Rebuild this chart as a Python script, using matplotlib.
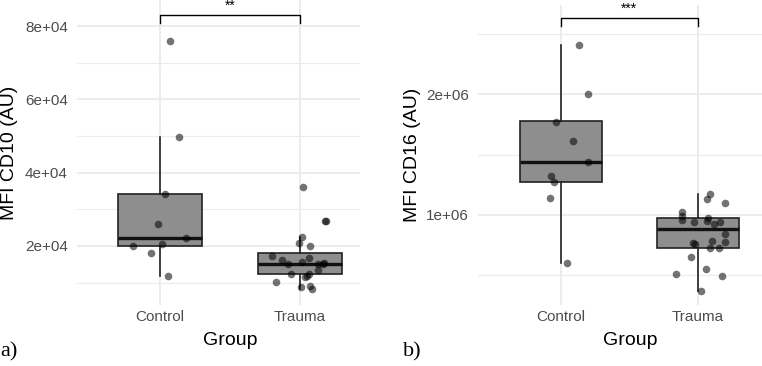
import matplotlib
matplotlib.use("Agg")
import matplotlib.pyplot as plt
from matplotlib.ticker import FixedLocator

plt.rcParams["font.family"] = ["Liberation Sans", "DejaVu Sans"]

groups = ["Control", "Trauma"]

# Panel a) MFI CD10 -- jittered points (x offset from group centre, value)
cd10_control = [76000, 49700, 34300, 26000, 22200, 20600, 20000, 18000, 11800]
cd10_control_jit = [0.074, 0.133, 0.036, -0.014, 0.188, 0.014, -0.195, -0.062, 0.06]
cd10_trauma = [36000, 26950, 26850, 22450, 20900, 20100, 17200, 16800, 16100, 15700,
               15000, 15200, 15350, 15000, 13450, 12360, 12360, 11900, 11460, 10270,
               8740, 9000, 8300]
cd10_trauma_jit = [0.024, 0.181, 0.188, 0.017, -0.005, 0.076, -0.2, 0.062, -0.131, 0.017,
                   -0.088, 0.131, 0.174, 0.164, 0.129, -0.062, 0.062, 0.052, 0.04, -0.174,
                   0.007, 0.074, 0.086]
# box stats: whisker low, q1, median, q3, whisker high
cd10_box = [[11800, 20000, 22300, 34300, 49700],
            [8400, 12300, 15200, 18000, 22400]]

# Panel b) MFI CD16
cd16_control = [2.405e6, 2.003e6, 1.771e6, 1.614e6, 1.435e6, 1.325e6, 1.273e6, 1.143e6, 0.601e6]
cd16_control_jit = [0.134, 0.195, -0.034, 0.085, 0.197, -0.073, -0.051, -0.08, 0.046]
cd16_trauma = [1.174e6, 1.132e6, 1.102e6, 1.025e6, 0.992e6, 0.959e6, 0.942e6, 0.975e6,
               0.948e6, 0.940e6, 0.923e6, 0.846e6, 0.779e6, 0.785e6, 0.77e6, 0.76e6,
               0.727e6, 0.727e6, 0.653e6, 0.554e6, 0.515e6, 0.498e6, 0.372e6]
cd16_trauma_jit = [0.088, 0.071, 0.197, -0.117, -0.117, -0.117, -0.024, 0.075,
                   0.068, 0.161, 0.119, 0.2, 0.202, 0.107, -0.034, -0.017,
                   0.09, 0.155, -0.051, 0.063, -0.158, 0.18, 0.024]
cd16_box = [[0.601e6, 1.27e6, 1.435e6, 1.775e6, 2.405e6],
            [0.372e6, 0.727e6, 0.884e6, 0.978e6, 1.171e6]]

cd10_ticks = [2e4, 4e4, 6e4, 8e4]
cd10_ticklabels = ["2e+04", "4e+04", "6e+04", "8e+04"]
cd10_minor = [1e4, 3e4, 5e4, 7e4]
cd16_ticks = [1e6, 2e6]
cd16_ticklabels = ["1e+06", "2e+06"]
cd16_minor = [0.5e6, 1.5e6, 2.5e6]

W, H = 762, 366
fig = plt.figure(figsize=(W / 100, H / 100), dpi=100)


def px_axes(x0, y0, x1, y1):
    return fig.add_axes([x0 / W, 1 - y1 / H, (x1 - x0) / W, (y1 - y0) / H])


def draw_panel(ax, boxes, ctrl, ctrl_jit, trauma, trauma_jit, ylim, xlim,
               ticks, ticklabels, minor, ylabel, sig, sig_y, sig_drop, sig_text_y):
    stats = []
    for b in boxes:
        stats.append(dict(whislo=b[0], q1=b[1], med=b[2], q3=b[3], whishi=b[4]))
    ax.bxp(stats, positions=[1, 2], widths=0.6, showfliers=False, patch_artist=True,
           manage_ticks=False,
           boxprops=dict(facecolor="#8e8e8e", edgecolor="#222222", linewidth=1.2),
           medianprops=dict(color="#111111", linewidth=2.4),
           whiskerprops=dict(color="#222222", linewidth=1.2),
           capprops=dict(linewidth=0), zorder=2)

    ax.scatter([1 + j for j in ctrl_jit], ctrl, s=30, color="black", alpha=0.55,
               linewidths=0, zorder=3)
    ax.scatter([2 + j for j in trauma_jit], trauma, s=30, color="black", alpha=0.55,
               linewidths=0, zorder=3)

    ax.set_xlim(*xlim)
    ax.set_ylim(*ylim)
    for s in ax.spines.values():
        s.set_visible(False)

    ax.yaxis.set_major_locator(FixedLocator(ticks))
    ax.set_yticklabels(ticklabels)
    ax.yaxis.set_minor_locator(FixedLocator(minor))
    ax.set_xticks([1, 2])
    ax.set_xticklabels(groups)
    ax.grid(True, which="major", color="#ebebeb", linewidth=1.3)
    ax.grid(True, which="minor", axis="y", color="#ebebeb", linewidth=0.8)
    ax.set_axisbelow(True)
    ax.tick_params(which="both", length=0, labelsize=11, labelcolor="#4d4d4d")
    ax.tick_params(axis="x", pad=3.5)
    ax.tick_params(axis="y", pad=6.5)

    # significance bracket
    ax.plot([1, 1, 2, 2], [sig_drop, sig_y, sig_y, sig_drop], color="black",
            linewidth=1.0, clip_on=False, zorder=4)
    ax.text(1.5, sig_text_y, sig, ha="center", va="baseline", fontsize=10, clip_on=False)

    ax.set_ylabel(ylabel, fontsize=14, color="black", va="center")
    ax.set_xlabel("Group", fontsize=14, color="black", va="center")


ax1 = px_axes(77, 0, 360, 305)
draw_panel(ax1, cd10_box, cd10_control, cd10_control_jit, cd10_trauma, cd10_trauma_jit,
           (3909, 87091), (0.407, 2.43), cd10_ticks, cd10_ticklabels, cd10_minor,
           "MFI CD10 (AU)", "**", 83080, 80900, 84400)
ax1.yaxis.set_label_coords(-0.237, 0.5)
ax1.xaxis.set_label_coords(0.541, -0.115)

ax2 = px_axes(478, 5, 762, 305)
draw_panel(ax2, cd16_box, cd16_control, cd16_control_jit, cd16_trauma, cd16_trauma_jit,
           (0.256e6, 2.736e6), (0.394, 2.47), cd16_ticks, cd16_ticklabels, cd16_minor,
           "MFI CD16 (AU)", "***", 2.626e6, 2.562e6, 2.672e6)
ax2.yaxis.set_label_coords(-0.232, 0.5)
ax2.xaxis.set_label_coords(0.535, -0.117)

fig.text(0 / W, 1 - 352 / H, "a)", family="Liberation Serif", fontsize=16,
         ha="left", va="center")
fig.text(403 / W, 1 - 352 / H, "b)", family="Liberation Serif", fontsize=16,
         ha="left", va="center")

fig.savefig("out.png", dpi=100)
